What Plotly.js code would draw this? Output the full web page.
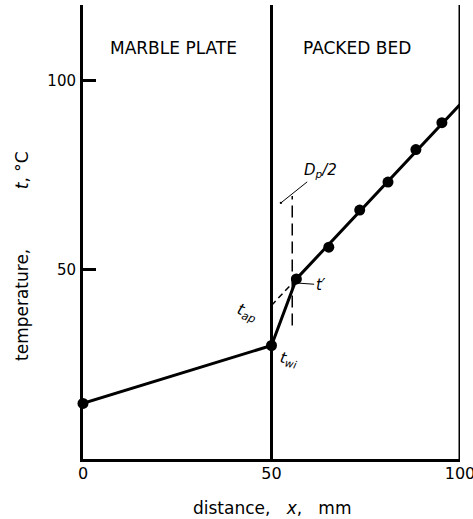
<!DOCTYPE html>
<html>
<head>
<meta charset="utf-8">
<script src="https://cdn.plot.ly/plotly-3.0.1.min.js"></script>
<style>html,body{margin:0;padding:0;background:#fff;}#chart{width:473px;height:519px;}</style>
</head>
<body>
<div id="chart"></div>
<script>
// Measured points (distance mm, temperature °C)
const pointX = [0, 50, 56.6, 65.2, 73.4, 80.9, 88.3, 95.2];
const pointY = [14.7, 30, 47.6, 56, 65.8, 73.2, 81.8, 88.9];
// Profile line: marble plate, entry jump, packed bed trend to wall
const lineX = [0, 50, 56.6, 100];
const lineY = [14.7, 30, 47.6, 93.7];
// Extrapolated packed-bed line back to wall (t_ap)
const extrapX = [50, 56.6];
const extrapY = [40.6, 47.6];
// Dp/2 marker line
const halfDpX = [55.5, 55.5];
const halfDpY = [35.3, 69.5];
// Boundaries
const boundaryX = [50, 100];
const xTicks = [0, 50, 100];
const yTicks = [50, 100];

const font = {family: "DejaVu Sans, sans-serif", color: "#000"};
const f = s => Object.assign({size: s}, font);

const traces = [
  {x: lineX, y: lineY, mode: "lines", line: {color: "#000", width: 3}, hoverinfo: "skip"},
  {x: extrapX, y: extrapY, mode: "lines", line: {color: "#000", width: 1.5, dash: "6px,4px"}, hoverinfo: "skip"},
  {x: halfDpX, y: halfDpY, mode: "lines", line: {color: "#000", width: 1.5, dash: "12px,6px"}, hoverinfo: "skip"},
  {x: pointX, y: pointY, mode: "markers", marker: {color: "#000", size: 11}, cliponaxis: false, hoverinfo: "skip"}
];

const shapes = boundaryX.map(b => ({
  type: "line", xref: "x", yref: "y", x0: b, x1: b, y0: 0, y1: 120,
  line: {color: "#000", width: 3}
}));

const annotations = [
  {x: 24.1, y: 108.6, text: "MARBLE PLATE", showarrow: false, font: f(17)},
  {x: 72.7, y: 108.6, text: "PACKED BED", showarrow: false, font: f(17)},
  {x: 52.5, y: 67.7, text: "<i>D<sub>p</sub>/2</i>", showarrow: true, ax: 40, ay: -32,
   arrowhead: 6, arrowsize: 0.6, arrowwidth: 1, arrowcolor: "#000", font: f(15)},
  {x: 55.6, y: 46.6, text: "<i>t′</i>", showarrow: true, ax: 28, ay: 2, arrowhead: 2, arrowsize: 0.8, arrowwidth: 1,
   arrowcolor: "#000", font: f(15)},
  {x: 43.6, y: 38.8, text: "<i>t<sub>ap</sub></i>", showarrow: false, textangle: 20, font: f(16)},
  {x: 54.6, y: 26.4, text: "<i>t<sub>wi</sub></i>", showarrow: false, textangle: 12, font: f(15)},
  {x: -9.8, y: 13.6, text: "t<sub>w2</sub>", showarrow: false, font: f(14)},
  {xref: "paper", yref: "paper", x: -0.162, y: 0.447, xanchor: "center", yanchor: "middle",
   text: "temperature,\u00a0\u00a0\u00a0\u00a0\u00a0\u00a0\u00a0\u00a0\u00a0\u00a0\u00a0<i>t</i>,\u00a0°C", textangle: -90, showarrow: false,
   font: f(17)},
  {xref: "paper", yref: "paper", x: 0.5, y: -0.108, xanchor: "center", yanchor: "middle",
   text: "distance,\u00a0\u00a0\u00a0<i>x</i>,\u00a0\u00a0\u00a0mm", showarrow: false, font: f(17)}
];

const layout = {
  width: 473, height: 519,
  margin: {l: 83, r: 13, t: 5, b: 60},
  paper_bgcolor: "#fff", plot_bgcolor: "#fff",
  showlegend: false,
  font: f(17),
  xaxis: {range: [0, 100], tickvals: xTicks, ticktext: xTicks.map(String), ticks: "", showgrid: false,
          zeroline: false, showline: true, linecolor: "#000", linewidth: 3, ticklabelstandoff: -2,
          ticklabeloverflow: "allow", tickfont: f(16), fixedrange: true},
  yaxis: {range: [0, 120], tickvals: yTicks, ticktext: yTicks.map(String), ticks: "inside", ticklen: 13,
          tickwidth: 3, tickcolor: "#000", showgrid: false, zeroline: false, showline: true, linecolor: "#000",
          linewidth: 3, tickfont: f(15), ticklabelstandoff: 1, fixedrange: true},
  shapes: shapes,
  annotations: annotations
};

Plotly.newPlot("chart", traces, layout, {displayModeBar: false, staticPlot: true});
</script>
</body>
</html>
